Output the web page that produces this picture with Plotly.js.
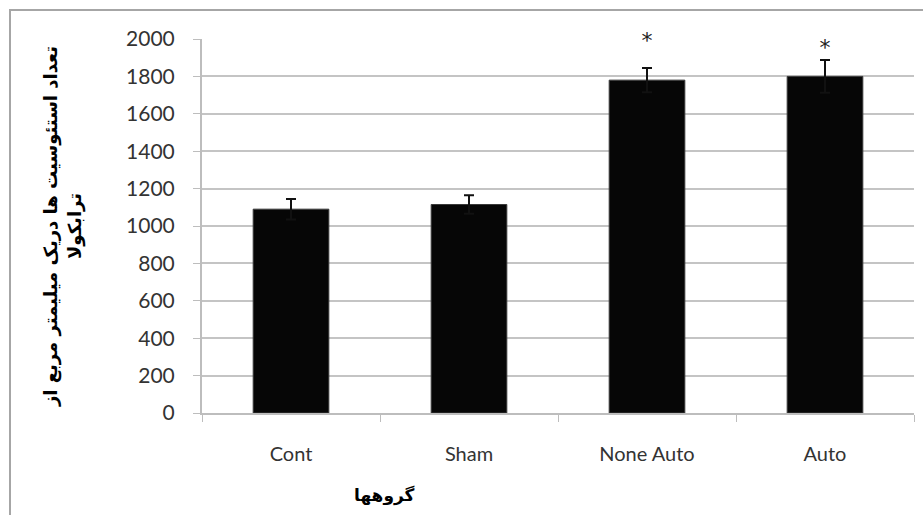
<!DOCTYPE html>
<html>
<head>
<meta charset="utf-8">
<script src="https://cdn.plot.ly/plotly-3.0.1.min.js"></script>
<style>
  html, body { margin: 0; padding: 0; background: #fff; }
  #wrap { position: relative; width: 923px; height: 515px; }
  #chart { width: 923px; height: 515px; }
  #frame { position: absolute; left: 9px; top: 9px; width: 914px; height: 506px;
           border-top: 2px solid #a6a6a6; border-left: 2px solid #a6a6a6; pointer-events: none; }
</style>
</head>
<body>
<div id="wrap">
  <div id="chart"></div>
  <div id="frame"></div>
</div>
<script>
const categories = ["Cont", "Sham", "None Auto", "Auto"];
const means = [1090, 1115, 1780, 1800];
const errors = [55, 50, 65, 88];
const starLabels = ["", "", "*", "*"];
const starY = [null, null, 1980, 1945];
const yTicks = [0, 200, 400, 600, 800, 1000, 1200, 1400, 1600, 1800, 2000];
const yTitle = "تعداد استئوسیت ها دریک میلیمتر مربع از<br>ترابکولا";
const xTitle = "گروهها";

const bars = {
  type: "bar",
  x: categories,
  y: means,
  marker: { color: "#060606", line: { color: "#3a3a3a", width: 1 } },
  error_y: { type: "data", array: errors, visible: true, color: "#111", thickness: 2, width: 5 },
  hoverinfo: "x+y"
};

const stars = {
  type: "scatter",
  mode: "text",
  x: categories.filter((c, i) => starY[i] !== null),
  y: starY.filter(v => v !== null),
  text: starLabels.filter((s, i) => starY[i] !== null),
  textfont: { family: "DejaVu Sans, sans-serif", size: 22, color: "#222" },
  textposition: "middle center",
  cliponaxis: false,
  hoverinfo: "skip"
};

const layout = {
  width: 923,
  height: 515,
  margin: { l: 202, r: 9, t: 39, b: 102 },
  paper_bgcolor: "#fff",
  plot_bgcolor: "#fff",
  showlegend: false,
  bargap: 0.575,
  font: { family: "Lato, 'Open Sans', sans-serif", color: "#333" },
  xaxis: {
    type: "category",
    showline: true,
    linecolor: "#bdbdbd",
    linewidth: 2,
    ticks: "outside",
    tickson: "boundaries",
    ticklen: 7,
    tickcolor: "#bdbdbd",
    tickwidth: 1,
    ticklabelstandoff: 22,
    tickfont: { size: 20, color: "#333", family: "Lato, 'Open Sans', sans-serif" },
    showgrid: false,
    zeroline: false
  },
  yaxis: {
    range: [0, 2000],
    tickvals: yTicks,
    ticktext: yTicks.map(String),
    showline: true,
    linecolor: "#bdbdbd",
    linewidth: 2,
    ticks: "outside",
    ticklen: 7,
    tickcolor: "#bdbdbd",
    tickwidth: 1,
    ticklabelstandoff: 14,
    tickfont: { size: 21, color: "#333", family: "Lato, 'Open Sans', sans-serif" },
    showgrid: true,
    gridcolor: "#c4c4c4",
    gridwidth: 2,
    zeroline: false,
    title: {
      text: yTitle,
      standoff: 40,
      font: { family: "DejaVu Sans, sans-serif", size: 18, color: "#000", weight: "bold" }
    }
  },
  annotations: [{
    xref: "paper", yref: "paper",
    x: 0.257, y: -0.22,
    xanchor: "center", yanchor: "middle",
    showarrow: false,
    text: "<b>" + xTitle + "</b>",
    font: { family: "DejaVu Sans, sans-serif", size: 17, color: "#000" }
  }]
};

Plotly.newPlot("chart", [bars, stars], layout, { displayModeBar: false });
</script>
</body>
</html>
